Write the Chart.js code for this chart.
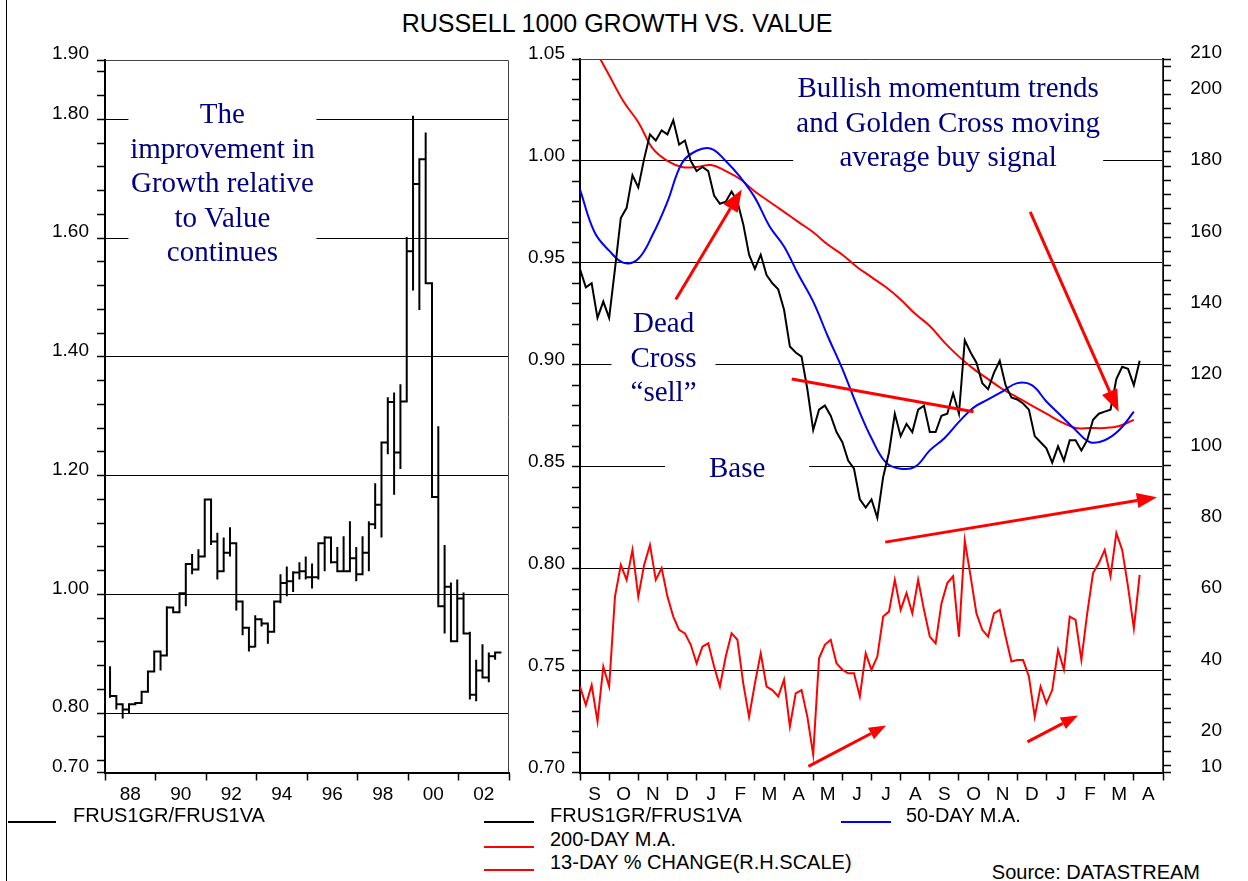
<!DOCTYPE html>
<html>
<head>
<meta charset="utf-8">
<script src="https://cdn.jsdelivr.net/npm/chart.js@4.4.1/dist/chart.umd.min.js"></script>
<style>
  body { margin: 0; background: #fff; width: 1248px; height: 881px; position: relative; overflow: hidden;
         font-family: "Liberation Sans", Arial, sans-serif; color: #000; }
  #frame { position: absolute; left: 6px; top: 0; width: 1px; height: 881px; background: #000; }
  .t { position: absolute; font-size: 20px; line-height: 22px; white-space: nowrap; }
  .sw { position: absolute; height: 2px; width: 50px; }
  canvas { position: absolute; top: 0; }
</style>
</head>
<body>
<div id="frame"></div>
<div class="t" style="left:317px;width:600px;text-align:center;top:8px;font-size:25px;line-height:30px">RUSSELL 1000 GROWTH VS. VALUE</div>

<canvas id="left" width="520" height="810" style="left:0"></canvas>
<canvas id="right" width="728" height="810" style="left:520px"></canvas>

<div class="sw" style="left:8px;top:821px;width:48px;background:#000"></div>
<div class="t" style="left:73px;top:804px">FRUS1GR/FRUS1VA</div>
<div class="sw" style="left:484px;top:821px;background:#000"></div>
<div class="t" style="left:550px;top:804px">FRUS1GR/FRUS1VA</div>
<div class="sw" style="left:841px;top:821px;background:#0000ff"></div>
<div class="t" style="left:906px;top:804px">50-DAY M.A.</div>
<div class="sw" style="left:484px;top:846px;background:#ff0000"></div>
<div class="t" style="left:550px;top:828px">200-DAY M.A.</div>
<div class="sw" style="left:484px;top:869px;background:#ff0000"></div>
<div class="t" style="left:550px;top:851px">13-DAY % CHANGE(R.H.SCALE)</div>
<div class="t" style="right:48px;top:861px">Source: DATASTREAM</div>

<script>
// ---- long-term chart: quarterly FRUS1GR/FRUS1VA (close, high, low) ----
const quarterStart = 1987.2;
const quarterStep = 0.25;
const qClose = [0.829, 0.815, 0.806, 0.815, 0.817, 0.836, 0.870, 0.904, 0.897, 0.978,
  0.970, 1.002, 1.051, 1.042, 1.064, 1.160, 1.089, 1.039, 1.070, 1.086,
  0.988, 0.944, 0.912, 0.958, 0.951, 0.937, 0.988, 1.019, 1.022, 1.037,
  1.039, 1.029, 1.029, 1.086, 1.096, 1.054, 1.039, 1.039, 1.061, 1.034,
  1.070, 1.118, 1.151, 1.256, 1.324, 1.239, 1.325, 1.578, 1.691, 1.733,
  1.524, 1.164, 0.980, 1.013, 0.921, 0.993, 0.934, 0.831, 0.872, 0.860,
  0.896, 0.902];
const qHigh = [0.879, 0.829, 0.815, 0.815, 0.817, 0.836, 0.870, 0.904, 0.904, 0.980,
  0.978, 1.002, 1.051, 1.068, 1.076, 1.160, 1.160, 1.104, 1.096, 1.113,
  1.086, 0.988, 0.944, 0.965, 0.958, 0.950, 0.988, 1.034, 1.047, 1.039,
  1.054, 1.064, 1.052, 1.086, 1.098, 1.090, 1.080, 1.098, 1.123, 1.080,
  1.098, 1.123, 1.187, 1.256, 1.332, 1.340, 1.354, 1.602, 1.806, 1.733,
  1.778, 1.524, 1.283, 1.083, 1.020, 1.025, 1.003, 0.937, 0.890, 0.916,
  0.902, 0.902];
const qLow = [0.826, 0.806, 0.791, 0.800, 0.815, 0.817, 0.836, 0.870, 0.872, 0.897,
  0.970, 0.978, 0.980, 1.034, 1.042, 1.064, 1.083, 1.025, 1.062, 1.064,
  0.973, 0.931, 0.904, 0.911, 0.946, 0.917, 0.937, 0.985, 0.997, 1.004,
  1.025, 1.025, 1.010, 1.025, 1.039, 1.052, 1.039, 1.039, 1.059, 1.022,
  1.037, 1.039, 1.110, 1.096, 1.236, 1.168, 1.211, 1.325, 1.512, 1.479,
  1.524, 1.164, 0.980, 0.934, 0.921, 0.921, 0.934, 0.823, 0.820, 0.860,
  0.852, 0.890];
const leftLabels = [0.70, 0.80, 1.00, 1.20, 1.40, 1.60, 1.80, 1.90];

// ---- short-term chart (x in months from start of September) ----
const monthLabels = ['S', 'O', 'N', 'D', 'J', 'F', 'M', 'A', 'M', 'J', 'J', 'A', 'S', 'O', 'N', 'D', 'J', 'F', 'M', 'A'];
const dailyStep = 0.2;   // sampling of the daily series, in months
const maStep = 0.5;      // sampling of the moving averages, in months
const ratio = [0.947, 0.938, 0.940, 0.923, 0.931, 0.923, 0.947, 0.972, 0.977, 0.993,
  0.987, 1.001, 1.013, 1.010, 1.015, 1.013, 1.020, 1.008, 1.010, 1.000,
  0.995, 0.997, 0.995, 0.983, 0.979, 0.980, 0.985, 0.980, 0.969, 0.954,
  0.947, 0.954, 0.944, 0.940, 0.937, 0.927, 0.909, 0.906, 0.904, 0.888,
  0.868, 0.878, 0.880, 0.875, 0.867, 0.862, 0.853, 0.849, 0.834, 0.830,
  0.834, 0.825, 0.845, 0.857, 0.876, 0.865, 0.871, 0.867, 0.878, 0.880,
  0.867, 0.867, 0.875, 0.876, 0.886, 0.876, 0.912, 0.906, 0.901, 0.891,
  0.888, 0.896, 0.902, 0.890, 0.884, 0.883, 0.881, 0.878, 0.865, 0.862,
  0.859, 0.852, 0.860, 0.853, 0.863, 0.863, 0.858, 0.863, 0.873, 0.876,
  0.877, 0.878, 0.893, 0.899, 0.898, 0.890, 0.902];
const ma50 = [0.986, 0.965, 0.956, 0.950, 0.952, 0.964, 0.980, 0.999, 1.005, 1.006,
  1.000, 0.992, 0.982, 0.968, 0.958, 0.944, 0.931, 0.914, 0.898, 0.880,
  0.864, 0.852, 0.849, 0.850, 0.858, 0.864, 0.872, 0.879, 0.883, 0.887,
  0.891, 0.890, 0.882, 0.875, 0.868, 0.862, 0.863, 0.868, 0.877];
const ma200 = [1.067, 1.055, 1.042, 1.029, 1.019, 1.006, 1.000, 0.997, 0.997, 0.998,
  0.995, 0.991, 0.985, 0.980, 0.975, 0.970, 0.965, 0.959, 0.954, 0.948,
  0.943, 0.938, 0.932, 0.925, 0.919, 0.911, 0.904, 0.898, 0.893, 0.888,
  0.884, 0.880, 0.876, 0.872, 0.869, 0.869, 0.869, 0.870, 0.873];
const change13 = [34.1, 28.9, 34.5, 24.3, 39.7, 34.1, 59.3, 68.2, 64.0, 72.4,
  59.3, 68.2, 73.8, 64.0, 67.3, 59.3, 53.7, 50.0, 49.0, 45.8,
  40.6, 45.3, 46.2, 39.7, 34.1, 42.5, 49.0, 47.2, 35.0, 25.6,
  35.0, 43.4, 34.1, 33.1, 31.3, 36.0, 22.9, 32.2, 33.1, 25.6,
  15.0, 42.0, 45.8, 47.2, 40.6, 38.8, 37.8, 37.8, 31.3, 43.4,
  38.8, 42.5, 53.7, 55.1, 64.0, 55.6, 60.3, 54.6, 64.0, 55.6,
  48.1, 46.2, 57.4, 63.1, 65.0, 48.1, 75.0, 65.0, 54.6, 50.0,
  48.1, 54.6, 55.6, 48.1, 41.1, 41.5, 41.5, 36.9, 25.6, 34.1,
  29.4, 33.1, 44.4, 38.8, 53.7, 52.8, 41.5, 54.6, 65.9, 68.7,
  72.4, 65.0, 77.1, 72.4, 62.1, 50.4, 65.4];

const NAVY = '#000080';
const RED = '#ff0000';
const tickFont = { family: '"Liberation Sans", Arial, sans-serif', size: 19 };
const noteFont = '29px "Liberation Serif", "Times New Roman", serif';

// text notes and arrows, placed in data coordinates
const leftNotes = [
  { lines: ['The', 'improvement in', 'Growth relative', 'to Value', 'continues'], x: 1991.65, y: 1.806, half: 94 }
];
const rightNotes = [
  { lines: ['Bullish momentum trends', 'and Golden Cross moving', 'average buy signal'], x: 12.63, y: 1.035, half: 155 },
  { lines: ['Dead', 'Cross', '\u201Csell\u201D'], x: 2.866, y: 0.9197, half: 52 },
  { lines: ['Base'], x: 5.39, y: 0.8485, half: 72 }
];
const rightArrows = [
  { from: [3.285, 0.932], to: [5.55, 0.986], head: 22 },
  { from: [15.445, 0.975], to: [18.476, 0.877], head: 22 },
  { from: [7.266, 0.893], to: [13.5, 0.877], head: 0 },
  { from: [10.47, 0.813], to: [19.79, 0.835], head: 20 },
  { from: [7.836, 0.703], to: [10.50, 0.723], head: 17 },
  { from: [15.35, 0.715], to: [17.08, 0.728], head: 17 }
];

function r2(v) { return Math.round(v * 100); }

function drawArrow(ctx, x1, y1, x2, y2, head) {
  const a = Math.atan2(y2 - y1, x2 - x1);
  const bx = x2 - head * Math.cos(a), by = y2 - head * Math.sin(a);
  ctx.beginPath();
  ctx.moveTo(x1, y1);
  ctx.lineTo(head ? bx : x2, head ? by : y2);
  ctx.stroke();
  if (!head) return;
  const hw = head * 0.38;
  ctx.beginPath();
  ctx.moveTo(x2, y2);
  ctx.lineTo(bx + hw * Math.sin(a), by - hw * Math.cos(a));
  ctx.lineTo(bx - hw * Math.sin(a), by + hw * Math.cos(a));
  ctx.closePath();
  ctx.fill();
}

// plot frame, white boxes behind the notes, then the notes and arrows
function notesPlugin(notes, arrows, yId) {
  const lh = 34.5;
  return {
    id: 'notes',
    beforeDatasetsDraw(chart) {
      const { ctx, chartArea: a } = chart;
      const xs = chart.scales.x, ys = chart.scales[yId];
      ctx.save();
      ctx.strokeStyle = '#444';
      ctx.lineWidth = 1;
      ctx.beginPath();
      ctx.moveTo(a.left, a.top + 0.5);
      ctx.lineTo(a.right - 0.5, a.top + 0.5);
      ctx.lineTo(a.right - 0.5, a.bottom);
      ctx.stroke();
      ctx.fillStyle = '#fff';
      notes.forEach(n => {
        const cx = xs.getPixelForValue(n.x), cy = ys.getPixelForValue(n.y);
        ctx.fillRect(cx - n.half, cy - lh / 2, n.half * 2, lh * n.lines.length);
      });
      ctx.restore();
    },
    afterDatasetsDraw(chart) {
      const { ctx } = chart;
      const xs = chart.scales.x, ys = chart.scales[yId];
      ctx.save();
      ctx.font = noteFont;
      ctx.fillStyle = NAVY;
      ctx.textAlign = 'center';
      ctx.textBaseline = 'middle';
      notes.forEach(n => {
        const cx = xs.getPixelForValue(n.x), cy = ys.getPixelForValue(n.y);
        n.lines.forEach((s, i) => ctx.fillText(s, cx, cy + i * lh));
      });
      ctx.strokeStyle = RED;
      ctx.fillStyle = RED;
      ctx.lineWidth = 3;
      arrows.forEach(ar => {
        drawArrow(ctx, xs.getPixelForValue(ar.from[0]), ys.getPixelForValue(ar.from[1]),
          xs.getPixelForValue(ar.to[0]), ys.getPixelForValue(ar.to[1]), ar.head);
      });
      ctx.restore();
    }
  };
}

// ---- left chart ----
const stepPoints = [];
qClose.forEach((c, i) => {
  const x = quarterStart + i * quarterStep;
  if (i > 0) stepPoints.push({ x, y: qClose[i - 1] });
  stepPoints.push({ x, y: qHigh[i] }, { x, y: qLow[i] }, { x, y: c });
});
stepPoints.push({ x: quarterStart + qClose.length * quarterStep, y: qClose[qClose.length - 1] });

new Chart(document.getElementById('left'), {
  type: 'line',
  data: {
    datasets: [{
      data: stepPoints, borderColor: '#000', borderWidth: 2, pointRadius: 0, tension: 0, fill: false
    }]
  },
  options: {
    responsive: false, animation: false, events: [],
    layout: { padding: { top: 60, right: 11, left: 0, bottom: 0 } },
    plugins: { legend: { display: false }, tooltip: { enabled: false } },
    scales: {
      x: {
        type: 'linear', min: 1987, max: 2003,
        afterBuildTicks: s => { s.ticks = [1987, 1989, 1991, 1993, 1995, 1997, 1999, 2001, 2003].map(value => ({ value })); },
        afterFit: s => { s.height = 37.5; },
        grid: { drawOnChartArea: false, tickLength: 8, tickColor: '#000', tickWidth: 1.5 },
        border: { color: '#000', width: 2 },
        ticks: {
          autoSkip: false, maxRotation: 0, labelOffset: 25.25, padding: 3, font: tickFont, color: '#000',
          callback: v => v < 2003 ? String((v + 1) % 100).padStart(2, '0') : ''
        }
      },
      y: {
        min: 0.70, max: 1.90,
        afterBuildTicks: s => {
          const t = [{ value: 0.70 }];
          for (let k = 0; k < 30; k++) t.push({ value: (72 + 4 * k) / 100 });
          t.push({ value: 1.90 });
          s.ticks = t;
        },
        afterFit: s => { s.width = 105; },
        grid: {
          color: c => {
            const v = c.tick ? r2(c.tick.value) : 0;
            return (v > 70 && v < 190 && leftLabels.some(l => r2(l) === v)) ? '#000' : 'rgba(0,0,0,0)';
          },
          lineWidth: 1, tickLength: 8, tickColor: '#000', tickWidth: 1.5
        },
        border: { color: '#000', width: 2 },
        ticks: {
          autoSkip: false, padding: 8, labelOffset: -6, font: tickFont, color: '#000',
          callback: v => leftLabels.some(l => r2(l) === r2(v)) ? v.toFixed(2) : ''
        }
      }
    }
  },
  plugins: [notesPlugin(leftNotes, [], 'y')]
});

// ---- right chart ----
const pts = (arr, step) => arr.map((y, i) => ({ x: i * step, y }));

new Chart(document.getElementById('right'), {
  type: 'line',
  data: {
    datasets: [
      { label: '13-DAY % CHANGE(R.H.SCALE)', data: pts(change13, dailyStep), yAxisID: 'y1', borderColor: RED, borderWidth: 2 },
      { label: 'FRUS1GR/FRUS1VA', data: pts(ratio, dailyStep), yAxisID: 'y', borderColor: '#000', borderWidth: 2 },
      { label: '50-DAY M.A.', data: pts(ma50, maStep), yAxisID: 'y', borderColor: '#0000ff', borderWidth: 2, tension: 0.4 },
      { label: '200-DAY M.A.', data: pts(ma200, maStep), yAxisID: 'y', borderColor: RED, borderWidth: 2, tension: 0.4 }
    ]
  },
  options: {
    responsive: false, animation: false, events: [],
    elements: { point: { radius: 0 }, line: { tension: 0, fill: false } },
    layout: { padding: { top: 59, right: 26, left: 0, bottom: 0 } },
    plugins: { legend: { display: false }, tooltip: { enabled: false } },
    scales: {
      x: {
        type: 'linear', min: 0, max: 20,
        afterBuildTicks: s => { s.ticks = monthLabels.concat(['']).map((_, value) => ({ value })); },
        afterFit: s => { s.height = 37.5; },
        grid: { drawOnChartArea: false, tickLength: 8, tickColor: '#000', tickWidth: 1.5 },
        border: { color: '#000', width: 2 },
        ticks: {
          autoSkip: false, maxRotation: 0, labelOffset: 14.57, padding: 3, font: tickFont, color: '#000',
          callback: v => monthLabels[v] || ''
        }
      },
      y: {
        position: 'left', min: 0.70, max: 1.05,
        afterBuildTicks: s => {
          const t = [];
          for (let k = 70; k <= 105; k++) t.push({ value: k / 100 });
          s.ticks = t;
        },
        afterFit: s => { s.width = 60; },
        grid: {
          color: c => {
            const v = c.tick ? r2(c.tick.value) : 0;
            return (v > 70 && v < 105 && v % 5 === 0) ? '#000' : 'rgba(0,0,0,0)';
          },
          lineWidth: 1, tickLength: 8, tickColor: '#000', tickWidth: 1.5
        },
        border: { color: '#000', width: 2 },
        ticks: {
          autoSkip: false, padding: 7, labelOffset: -5, font: tickFont, color: '#000',
          callback: v => r2(v) % 5 === 0 ? v.toFixed(2) : ''
        }
      },
      y1: {
        position: 'right', min: 10, max: 210,
        afterBuildTicks: s => {
          const t = [{ value: 10 }];
          for (let v = 12; v <= 208; v += 4) t.push({ value: v });
          t.push({ value: 210 });
          s.ticks = t;
        },
        afterFit: s => { s.width = 59; },
        grid: { drawOnChartArea: false, tickLength: 8, tickColor: '#000', tickWidth: 1.5 },
        border: { color: '#000', width: 2 },
        ticks: {
          autoSkip: false, crossAlign: 'far', padding: 10, labelOffset: -6, font: tickFont, color: '#000',
          callback: v => (v % 20 === 0 || v === 10 || v === 210) ? String(v) : ''
        }
      }
    }
  },
  plugins: [notesPlugin(rightNotes, rightArrows, 'y')]
});
</script>
</body>
</html>
